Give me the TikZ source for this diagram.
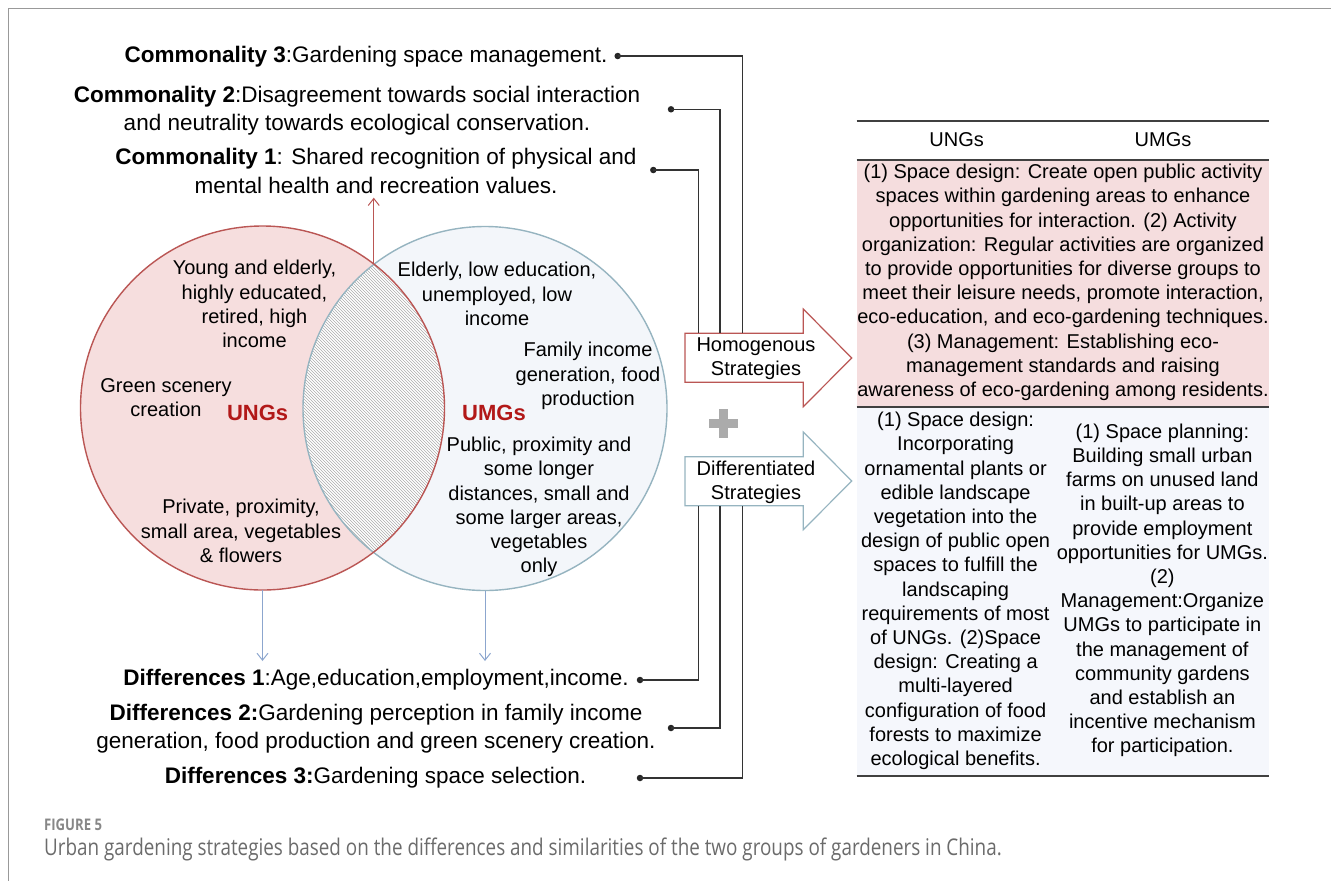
\documentclass[tikz,border=0pt]{standalone}
\usepackage{fontspec}
\setmainfont{Liberation Sans}
\newfontfamily\capfont{Open Sans}[FakeStretch=0.82]
\usetikzlibrary{patterns,arrows.meta}

\definecolor{ungred}{RGB}{186,86,84}
\definecolor{ungfill}{RGB}{246,222,222}
\definecolor{umgblue}{RGB}{150,180,192}
\definecolor{umgfill}{RGB}{243,246,250}
\definecolor{tagred}{RGB}{178,24,24}
\definecolor{downblue}{RGB}{140,166,206}
\definecolor{homfill}{RGB}{245,221,222}
\definecolor{diffill}{RGB}{245,247,252}
\definecolor{rulegray}{RGB}{64,64,64}

\tikzset{
  lbl/.style={align=center,inner sep=0pt,font=\fontsize{22.5}{28.3}\selectfont},
  txt/.style={align=center,inner sep=0pt,font=\fontsize{20}{24.2}\selectfont},
  tag/.style={inner sep=0pt,text=tagred,font=\fontsize{22}{24}\selectfont\bfseries},
  dot/.style={circle,fill=black!85,inner sep=0pt,minimum size=6.5pt},
  link/.style={draw=black!80,line width=1.4pt},
  venn/.style={circle,minimum size=364pt,inner sep=0pt,outer sep=0pt},
  trule/.style={draw=rulegray,line width=2pt},
  pointer/.style={line width=1pt,-{Straight Barb[length=7pt,width=11pt]}},
}

\begin{document}
\begin{tikzpicture}[x=1pt,y=-1pt]
\useasboundingbox (0,0) rectangle (1331,881);
\draw[black!40,line width=1pt] (8,881) -- (8,8) -- (1331,8);

% left column labels
\node[lbl] (c3) at (366,57) {\textbf{Commonality 3}:Gardening space management.};
\node[lbl] (c2) at (357,111) {\textbf{Commonality 2}:Disagreement towards social interaction\\and neutrality towards ecological conservation.};
\node[lbl] (c1) at (376,171) {\textbf{Commonality 1}: Shared recognition of physical and\\mental health and recreation values.};
\node[lbl] (d1) at (376,680) {\textbf{Differences 1}:Age,education,employment,income.};
\node[lbl] (d2) at (376,729) {\textbf{Differences 2:}Gardening perception in family income\\generation, food production and green scenery creation.};
\node[lbl] (d3) at (375.5,778) {\textbf{Differences 3:}Gardening space selection.};

\node[dot] (c3dot) at (617.7,56) {};
\node[dot] (c2dot) at (671,109.3) {};
\node[dot] (c1dot) at (653.3,170) {};
\node[dot] (d1dot) at (640,680) {};
\node[dot] (d2dot) at (671,728) {};
\node[dot] (d3dot) at (640,778) {};

% venn
\node[venn,fill=ungfill] (ung) at (262.5,408) {};
\node[venn,fill=umgfill] (umg) at (485,408.5) {};
\begin{scope}
  \clip (ung.center) circle (182pt);
  \fill[white] (umg.center) circle (182pt);
  \fill[pattern=north west lines,pattern color=black!32] (umg.center) circle (182pt);
\end{scope}
\node[venn,draw=umgblue,line width=1.4pt] at (umg.center) {};
\node[venn,draw=ungred,line width=1.4pt] at (ung.center) {};

\coordinate (top) at (373.75,264);
\coordinate (up) at (373.75,197.7);
\coordinate (ungdown) at (262.5,661);
\coordinate (umgdown) at (485,661);
\draw[pointer,ungred] (top) -- (up);
\draw[pointer,downblue] (ung.south) -- (ungdown);
\draw[pointer,downblue] (umg.south) -- (umgdown);

\node[txt] (u1) at (254.5,304) {Young and elderly,\\highly educated,\\retired, high\\income};
\node[txt] (u2) at (166,398) {Green scenery\\creation};
\node[tag] (ungtag) at (257.6,413.3) {UNGs};
\node[txt] (u3) at (241,531) {Private, proximity,\\small area, vegetables\\\& flowers};
\node[txt] (m1) at (497,294) {Elderly, low education,\\unemployed, low\\income};
\node[txt] (m2) at (588,376) {Family income\\generation, food\\production};
\node[tag] (umgtag) at (494,412.7) {UMGs};
\node[txt] (m3) at (539,507) {Public, proximity and\\some longer\\distances, small and\\some larger areas,\\vegetables\\only};

% strategy arrows
\draw[ungred,fill=white,line width=1.2pt] (685,333.3) -- (803.3,333.3) -- (803.3,309)
  -- (851.7,358) -- (803.3,406.7) -- (803.3,382.3) -- (685,382.3) -- cycle;
\draw[umgblue,fill=white,line width=1.2pt] (685,456.7) -- (803.3,456.7) -- (803.3,432)
  -- (851.7,481) -- (803.3,529.7) -- (803.3,505.7) -- (685,505.7) -- cycle;
\node[txt] (hom) at (756,359) {Homogenous\\Strategies};
\node[txt] (dif) at (756,482) {Differentiated\\Strategies};
\coordinate (hom1) at (698.3,333.3);
\coordinate (hom2) at (720,333.3);
\coordinate (hom3) at (742.3,333.3);
\coordinate (dif1) at (698.3,505.7);
\coordinate (dif2) at (720,505.7);
\coordinate (dif3) at (742.3,505.7);

\fill[black!33] (708.8,419) rectangle (737.8,427.6);
\fill[black!33] (719,409) rectangle (727.6,438);

\draw[link] (c1dot.center) -| (hom1);
\draw[link] (c2dot.center) -| (hom2);
\draw[link] (c3dot.center) -| (hom3);
\draw[link] (d1dot.center) -| (dif1);
\draw[link] (d2dot.center) -| (dif2);
\draw[link] (d3dot.center) -| (dif3);

% table
\fill[homfill] (856.7,160) rectangle (1269.3,406.7);
\fill[diffill] (856.7,406.7) rectangle (1269.3,776);
\draw[trule] (856.7,120.7) -- (1269.3,120.7);
\draw[trule] (856.7,160) -- (1269.3,160);
\draw[trule] (856.7,406.7) -- (1269.3,406.7);
\draw[trule] (856.7,776) -- (1269.3,776);
\node[txt] (hung) at (956.7,139.3) {UNGs};
\node[txt] (humg) at (1163,139.3) {UMGs};
\node[txt] (homtxt) at (1063,282.5) {(1) Space design: Create open public activity\\
  spaces within gardening areas to enhance\\
  opportunities for interaction. (2) Activity\\
  organization: Regular activities are organized\\
  to provide opportunities for diverse groups to\\
  meet their leisure needs, promote interaction,\\
  eco-education, and eco-gardening techniques.\\
  (3) Management: Establishing eco-\\
  management standards and raising\\
  awareness of eco-gardening among residents.};
\node[txt] (difung) at (955.6,590.9) {(1) Space design:\\Incorporating\\ornamental plants or\\
  edible landscape\\vegetation into the\\design of public open\\spaces to fulfill the\\
  landscaping\\requirements of most\\of UNGs. (2)Space\\design: Creating a\\
  multi-layered\\configuration of food\\forests to maximize\\ecological benefits.};
\node[txt] (difumg) at (1162.4,590.5) {(1) Space planning:\\Building small urban\\farms on unused land\\
  in built-up areas to\\provide employment\\opportunities for UMGs.\\(2)\\Management:Organize\\
  UMGs to participate in\\the management of\\community gardens\\and establish an\\
  incentive mechanism\\for participation.};

% caption
\node[anchor=west,inner sep=0pt,text=black!47,font=\capfont\fontsize{16}{18}\selectfont\bfseries] (fig) at (44,825) {FIGURE 5};
\node[anchor=west,inner sep=0pt,text=black!58,font=\capfont\fontsize{23}{26}\selectfont] (cap) at (44,849)
  {Urban gardening strategies based on the differences and similarities of the two groups of gardeners in China.};
\end{tikzpicture}
\end{document}
